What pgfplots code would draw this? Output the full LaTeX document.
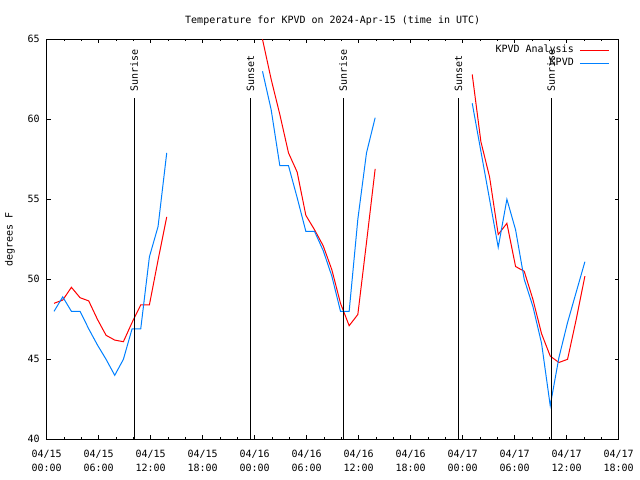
\documentclass[border=0pt]{standalone}
\usepackage{fontspec}
\setmainfont{DejaVu Sans Mono}
\usepackage{pgfplots}
\pgfplotsset{compat=1.18}
\definecolor{gred}{RGB}{255,0,0}
\definecolor{gblue}{RGB}{0,128,255}
\begin{document}
\fontsize{10bp}{14bp}\selectfont
\begin{tikzpicture}
\useasboundingbox (-46.7bp,-40.7bp) rectangle (593.3bp,439.3bp);
\begin{axis}[
  at={(0,0)}, anchor=south west,
  scale only axis, width=572bp, height=400bp,
  xmin=0, xmax=66, ymin=40, ymax=65,
  xtick={0,6,...,66},
  xticklabels={{04/15\\00:00},{04/15\\06:00},{04/15\\12:00},{04/15\\18:00},
               {04/16\\00:00},{04/16\\06:00},{04/16\\12:00},{04/16\\18:00},
               {04/17\\00:00},{04/17\\06:00},{04/17\\12:00},{04/17\\18:00}},
  xticklabel style={align=center, yshift=-7bp},
  minor x tick num=2,
  ytick={40,45,...,65},
  yticklabel style={xshift=-3.5bp},
  /pgf/number format/assume math mode=true,
  tick align=inside,
  major tick length=4bp, minor tick length=2bp,
  axis line style={black, line width=1bp},
  every tick/.style={black, line width=1bp},
  title={Temperature for KPVD on 2024-Apr-15 (time in UTC)},
  title style={at={(axis description cs:0.5,1)}, anchor=base, yshift=10bp, inner sep=0pt},
  ylabel={degrees F},
  ylabel style={at={(axis description cs:-0.0642,0.5)}, anchor=center, inner sep=0pt},
  unbounded coords=jump,
  legend plot pos=right,
  legend cell align=right,
  legend image code/.code={\draw[#1] (0bp,0bp) -- (28.6bp,0bp);},
  legend style={draw=none, fill=none, inner sep=0pt, row sep=0pt, column sep=4.7bp,
    at={(axis description cs:0.98357,0.98875)}, anchor=north east,
    nodes={inner sep=1bp, text height=8bp, text depth=3bp}},
]
\addplot[gred, line width=1bp] coordinates {
 (0.85,48.5) (1.85,48.7) (2.85,49.5) (3.85,48.85) (4.85,48.65) (5.85,47.5) (6.85,46.5)
 (7.85,46.2) (8.85,46.1) (9.85,47.3) (10.85,48.4) (11.85,48.4) (12.85,51.2) (13.85,53.9)
 (19,nan)
 (24.9,65.0) (25.9,62.5) (26.9,60.3) (27.9,57.9) (28.9,56.7) (29.9,54.0) (30.9,53.1)
 (31.9,52.1) (32.9,50.6) (33.9,48.5) (34.9,47.1) (35.9,47.8) (36.9,52.3) (37.9,56.9)
 (43,nan)
 (49.1,62.8) (50.1,58.6) (51.1,56.4) (52.1,52.8) (53.1,53.5) (54.1,50.8) (55.1,50.5)
 (56.1,48.75) (57.1,46.6) (58.1,45.2) (59.1,44.8) (60.1,45.0) (61.1,47.5) (62.1,50.2)
};
\addlegendentry{KPVD Analysis}
\addplot[gblue, line width=1bp] coordinates {
 (0.85,48.0) (1.85,48.9) (2.85,48.0) (3.85,48.0) (4.85,46.9) (5.85,45.9) (6.85,45.0)
 (7.85,44.0) (8.85,45.0) (9.85,46.9) (10.85,46.9) (11.85,51.4) (12.85,53.3) (13.85,57.9)
 (19,nan)
 (24.9,63.0) (25.9,60.6) (26.9,57.1) (27.9,57.1) (28.9,55.1) (29.9,53.0) (30.9,53.0)
 (31.9,51.8) (32.9,50.2) (33.9,48.0) (34.9,48.0) (35.9,53.75) (36.9,57.9) (37.9,60.1)
 (43,nan)
 (49.1,61.0) (50.1,58.0) (51.1,55.0) (52.1,52.0) (53.1,55.0) (54.1,53.1) (55.1,50.0)
 (56.1,48.3) (57.1,46.0) (58.1,42.1) (59.1,45.1) (60.1,47.3) (61.1,49.2) (62.1,51.1)
};
\addlegendentry{KPVD}
\addplot[black, line width=1bp, forget plot] coordinates {(10.1,40) (10.1,61.3)}
  node[pos=1, rotate=90, anchor=west, inner xsep=6.5bp, inner ysep=0pt] {Sunrise};
\addplot[black, line width=1bp, forget plot] coordinates {(23.5,40) (23.5,61.3)}
  node[pos=1, rotate=90, anchor=west, inner xsep=6.5bp, inner ysep=0pt] {Sunset};
\addplot[black, line width=1bp, forget plot] coordinates {(34.2,40) (34.2,61.3)}
  node[pos=1, rotate=90, anchor=west, inner xsep=6.5bp, inner ysep=0pt] {Sunrise};
\addplot[black, line width=1bp, forget plot] coordinates {(47.5,40) (47.5,61.3)}
  node[pos=1, rotate=90, anchor=west, inner xsep=6.5bp, inner ysep=0pt] {Sunset};
\addplot[black, line width=1bp, forget plot] coordinates {(58.2,40) (58.2,61.3)}
  node[pos=1, rotate=90, anchor=west, inner xsep=6.5bp, inner ysep=0pt] {Sunrise};
\end{axis}
\end{tikzpicture}
\end{document}
